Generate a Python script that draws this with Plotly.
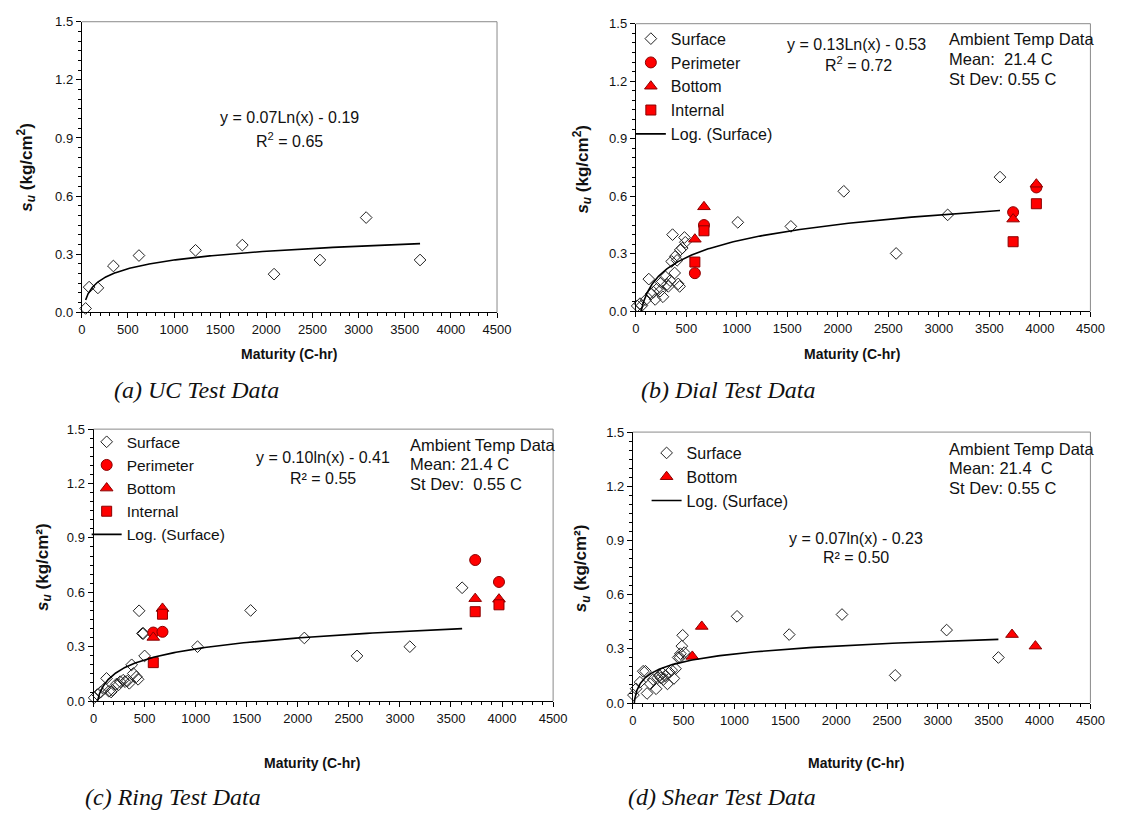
import numpy as np
import plotly.graph_objects as go

W, H = 1130, 820

# ---------------- data ----------------
# (a) UC test
a_surf_x = [42, 80, 175, 343, 620, 1233, 1740, 2084, 2581, 3082, 3666]
a_surf_y = [0.02, 0.13, 0.126, 0.239, 0.293, 0.32, 0.347, 0.197, 0.27, 0.489, 0.27]

# (b) Dial test
b_surf_x = [14, 42, 60, 100, 129, 150, 175, 192, 215, 240, 252, 269, 294, 310, 322, 340,
            355, 364, 385, 392, 409, 420, 434, 440, 460, 482, 490, 1010, 1535, 2059, 2577, 3087, 3605]
b_surf_y = [0.028, 0.04, 0.03, 0.06, 0.168, 0.09, 0.10, 0.062, 0.12, 0.105, 0.15, 0.076, 0.18, 0.14, 0.13, 0.16,
            0.26, 0.40, 0.20, 0.287, 0.266, 0.143, 0.13, 0.32, 0.33, 0.385, 0.36, 0.464, 0.443, 0.626, 0.302, 0.503, 0.70]
b_red_x = [585, 675, 3735, 3965]
b_perim_y = [0.199, 0.45, 0.517, 0.646]
b_bottom_y = [0.376, 0.545, 0.481, 0.663]
b_internal_y = [0.257, 0.42, 0.363, 0.561]

# (c) Ring test
c_surf_x = [6, 38, 70, 110, 127, 150, 172, 185, 223, 245, 261, 290, 309, 330, 350, 373, 389,
            420, 436, 446, 478, 488, 500, 1018, 1538, 2064, 2580, 3097, 3609]
c_surf_y = [0.018, 0.036, 0.05, 0.07, 0.125, 0.054, 0.05, 0.06, 0.093, 0.09, 0.107, 0.115, 0.107, 0.11, 0.098, 0.20, 0.152,
            0.134, 0.12, 0.498, 0.373, 0.373, 0.249, 0.30, 0.50, 0.348, 0.249, 0.30, 0.625]
c_red_x = [585, 675, 3737, 3970]
c_perim_y = [0.378, 0.382, 0.778, 0.657]
c_bottom_y = [0.351, 0.511, 0.565, 0.562]
c_internal_y = [0.212, 0.479, 0.493, 0.531]

# (d) Shear test
d_surf_x = [6, 32, 70, 102, 124, 140, 172, 200, 229, 245, 261, 275, 293, 300, 320, 341, 360, 382,
            404, 420, 446, 464, 468, 482, 490, 506, 1025, 1538, 2057, 2580, 3086, 3595]
d_surf_y = [0.044, 0.079, 0.115, 0.176, 0.176, 0.053, 0.106, 0.13, 0.079, 0.14, 0.153, 0.14, 0.164, 0.13, 0.15, 0.106, 0.17, 0.182,
            0.136, 0.19, 0.252, 0.252, 0.273, 0.315, 0.375, 0.279, 0.48, 0.379, 0.49, 0.153, 0.404, 0.252]
d_red_x = [585, 678, 3729, 3959]
d_bottom_y = [0.258, 0.424, 0.379, 0.315]

x_ticks = [0, 500, 1000, 1500, 2000, 2500, 3000, 3500, 4000, 4500]
y_ticks = [0.0, 0.3, 0.6, 0.9, 1.2, 1.5]

# ---------------- layout helpers ----------------
SANS = "Liberation Sans, Arial, sans-serif"
SERIF = "Liberation Serif, Times New Roman, serif"
RED = "#ff0000"
RED_EDGE = "#8b0000"

fig = go.Figure()

# plot-area boxes in pixels: (left, right, top, bottom)
boxes = {
    1: (79, 501, 15, 311),
    2: (642, 1104, 17, 310),
    3: (91, 558, 430, 707),
    4: (639, 1104, 433, 709),
}


def px(x):
    return x / W


def py(y):
    return 1 - y / H


def ann(text, x, y, size=16, xanchor="center", bold=False, italic=False, font=SANS,
        angle=0, color="#111"):
    if bold:
        text = f"<b>{text}</b>"
    if italic:
        text = f"<i>{text}</i>"
    fig.add_annotation(text=text, x=px(x), y=py(y), xref="paper", yref="paper",
                       showarrow=False, xanchor=xanchor, yanchor="middle",
                       textangle=angle, font=dict(family=font, size=size, color=color))


for n, (l, r, t, b) in boxes.items():
    sfx = "" if n == 1 else str(n)
    fig.update_layout({
        f"xaxis{sfx}": dict(domain=[px(l), px(r)], anchor=f"y{sfx}", range=[0, 4500],
                            tickvals=x_ticks, ticks="outside", ticklen=5, tickcolor="#000",
                            showline=True, linecolor="#000", linewidth=1, showgrid=False,
                            zeroline=False, tickfont=dict(family=SANS, size=13, color="#111"),
                            minor=dict(dtick=100, tick0=0, ticks="outside", ticklen=3,
                                       tickcolor="#000", showgrid=False),
                            fixedrange=True),
        f"yaxis{sfx}": dict(domain=[py(b), py(t)], anchor=f"x{sfx}", range=[0, 1.5],
                            tickvals=y_ticks, tickformat=".1f", ticks="outside", ticklen=5,
                            tickcolor="#000", showline=True, linecolor="#000", linewidth=1,
                            showgrid=False, zeroline=False,
                            tickfont=dict(family=SANS, size=13, color="#111"),
                            minor=dict(dtick=0.05, tick0=0, ticks="outside", ticklen=3,
                                       tickcolor="#000", showgrid=False),
                            fixedrange=True),
    })
    # gray frame on top/right
    fig.add_shape(type="line", xref="paper", yref="paper", x0=px(l), x1=px(r), y0=py(t), y1=py(t),
                  line=dict(color="#8a8a8a", width=1))
    fig.add_shape(type="line", xref="paper", yref="paper", x0=px(r), x1=px(r), y0=py(t), y1=py(b),
                  line=dict(color="#8a8a8a", width=1))


def surface(n, xs, ys, legend, show):
    ax = "" if n == 1 else str(n)
    fig.add_trace(go.Scatter(x=xs, y=ys, mode="markers", name="Surface",
                             xaxis=f"x{ax}", yaxis=f"y{ax}", legend=legend, showlegend=show,
                             cliponaxis=False,
                             marker=dict(symbol="diamond-open", size=9, color="#222",
                                         line=dict(width=1, color="#222"))))


def red(n, xs, ys, name, symbol, size, legend):
    ax = str(n)
    fig.add_trace(go.Scatter(x=xs, y=ys, mode="markers", name=name,
                             xaxis=f"x{ax}", yaxis=f"y{ax}", legend=legend, cliponaxis=False,
                             marker=dict(symbol=symbol, size=size, color=RED,
                                         line=dict(width=1, color=RED_EDGE))))


def logfit(n, xs, ys, legend, show):
    ax = "" if n == 1 else str(n)
    lx = np.log(np.asarray(xs, dtype=float))
    slope, icpt = np.polyfit(lx, np.asarray(ys, dtype=float), 1)
    xx = np.exp(np.linspace(lx.min(), lx.max(), 300))
    fig.add_trace(go.Scatter(x=xx, y=slope * np.log(xx) + icpt, mode="lines",
                             name="Log. (Surface)", xaxis=f"x{ax}", yaxis=f"y{ax}",
                             legend=legend, showlegend=show,
                             line=dict(color="#000", width=1.6)))


# (a)
surface(1, a_surf_x, a_surf_y, "legend", False)
logfit(1, a_surf_x, a_surf_y, "legend", False)

# (b)
surface(2, b_surf_x, b_surf_y, "legend2", True)
red(2, b_red_x, b_perim_y, "Perimeter", "circle", 11, "legend2")
red(2, b_red_x, b_bottom_y, "Bottom", "triangle-up", 11, "legend2")
red(2, b_red_x, b_internal_y, "Internal", "square", 10, "legend2")
logfit(2, b_surf_x, b_surf_y, "legend2", True)

# (c)
surface(3, c_surf_x, c_surf_y, "legend3", True)
red(3, c_red_x, c_perim_y, "Perimeter", "circle", 11, "legend3")
red(3, c_red_x, c_bottom_y, "Bottom", "triangle-up", 11, "legend3")
red(3, c_red_x, c_internal_y, "Internal", "square", 10, "legend3")
logfit(3, c_surf_x, c_surf_y, "legend3", True)

# (d)
surface(4, d_surf_x, d_surf_y, "legend4", True)
red(4, d_red_x, d_bottom_y, "Bottom", "triangle-up", 11, "legend4")
logfit(4, d_surf_x, d_surf_y, "legend4", True)

leg_common = dict(bgcolor="rgba(0,0,0,0)", borderwidth=0, xanchor="left", yanchor="top",
                  tracegroupgap=0, itemwidth=30, traceorder="normal")
fig.update_layout(
    legend2=dict(x=px(637), y=py(15), font=dict(family=SANS, size=16, color="#111"), **leg_common),
    legend3=dict(x=px(84), y=py(426), font=dict(family=SANS, size=15.5, color="#111"), **leg_common),
    legend4=dict(x=px(653), y=py(437), font=dict(family=SANS, size=16, color="#111"), **leg_common),
)

# equations
ann("y = 0.07Ln(x) - 0.19", 290, 113)
ann("R<sup>2</sup> = 0.65", 290, 135)
ann("y = 0.13Ln(x) - 0.53", 866, 38)
ann("R<sup>2</sup> = 0.72", 868, 58)
ann("y = 0.10ln(x) - 0.41", 324, 459)
ann("R² = 0.55", 324, 480)
ann("y = 0.07ln(x) - 0.23", 866, 541)
ann("R² = 0.50", 866, 561)

# ambient temp notes
for (x0, y0, lines) in [
    (958, 33, ["Ambient Temp Data", "Mean:  21.4 C", "St Dev: 0.55 C"]),
    (411, 446, ["Ambient Temp Data", "Mean: 21.4 C", "St Dev:  0.55 C"]),
    (958, 450, ["Ambient Temp Data", "Mean: 21.4  C", "St Dev: 0.55 C"]),
]:
    for i, s in enumerate(lines):
        ann(s.replace("  ", "&nbsp; "), x0, y0 + 20 * i, size=16.5, xanchor="left")

# axis titles
YT = "<i>s</i><sub><i>u</i></sub> (kg/cm<sup>2</sup>)"
YT2 = "<i>s</i><sub><i>u</i></sub> (kg/cm²)"
ann(YT, 22, 163, size=17, bold=True, angle=-90)
ann(YT, 588, 165, size=17, bold=True, angle=-90)
ann(YT2, 40, 570, size=17, bold=True, angle=-90)
ann(YT2, 587, 572, size=17, bold=True, angle=-90)
ann("Maturity (C-hr)", 290, 353, size=14, bold=True)
ann("Maturity (C-hr)", 862, 353, size=14, bold=True)
ann("Maturity (C-hr)", 313, 770, size=14, bold=True)
ann("Maturity (C-hr)", 866, 770, size=14, bold=True)

# captions
ann("(a) UC Test Data", 110, 390, size=24, italic=True, font=SERIF, xanchor="left")
ann("(b) Dial Test Data", 645, 390, size=24, italic=True, font=SERIF, xanchor="left")
ann("(c) Ring Test Data", 80, 805, size=24, italic=True, font=SERIF, xanchor="left")
ann("(d) Shear Test Data", 632, 805, size=24, italic=True, font=SERIF, xanchor="left")

fig.update_layout(width=W, height=H, margin=dict(l=0, r=0, t=0, b=0),
                  paper_bgcolor="white", plot_bgcolor="white", showlegend=True,
                  font=dict(family=SANS))

fig.write_html("out.html", config={"displayModeBar": False})
